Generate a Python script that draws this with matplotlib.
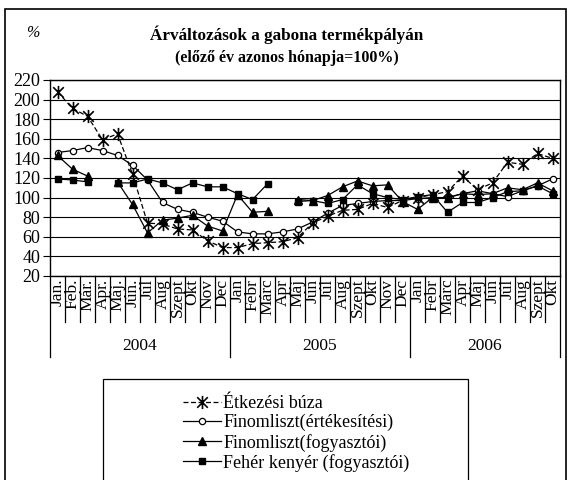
import matplotlib
matplotlib.use('Agg')
import matplotlib.pyplot as plt
from matplotlib.path import Path
from matplotlib.patches import Rectangle
import numpy as np

months = ['Jan.', 'Feb.', 'Már.', 'Apr.', 'Máj.', 'Jún.', 'Júl', 'Aug', 'Szept', 'Okt', 'Nov', 'Dec',
          'Jan', 'Febr', 'Márc', 'Apr', 'Máj', 'Jún', 'Júl', 'Aug', 'Szept', 'Okt', 'Nov', 'Dec',
          'Jan', 'Febr', 'Márc', 'Apr', 'Máj', 'Jún', 'Júl', 'Aug', 'Szept', 'Okt']
years = ['2004', '2005', '2006']
year_counts = [12, 12, 10]

buza = [208, 191, 183, 159, 165, 124, 74, 73, 68, 67, 56, 49,
        49, 53, 54, 55, 59, 74, 81, 87, 88, 94, 90, 97,
        100, 103, 106, 122, 108, 115, 136, 134, 145, 140]
finom_ert = [146, 148, 151, 148, 143, 133, 118, 95, 88, 85, 80, 76,
             65, 63, 63, 65, 68, 75, 84, 92, 94, 96, 97, 97,
             99, 100, 100, 104, 107, 104, 101, 107, 112, 119]
finom_fogy = [143, 129, 122, None, 116, 93, 64, 77, 79, 82, 71, 66,
              103, 85, 86, None, 98, 97, 102, 111, 117, 112, 113, 96,
              88, 100, 100, 104, 103, 104, 110, 108, 115, 107]
kenyer = [119, 118, 116, None, 115, 115, 119, 115, 108, 115, 111, 111,
          104, 98, 114, None, 96, 97, 94, 98, 113, 104, 100, 98,
          101, 103, 85, 95, 95, 100, 106, 107, 112, 104]

series_names = ['Étkezési búza', 'Finomliszt(értékesítési)',
                'Finomliszt(fogyasztói)', 'Fehér kenyér (fogyasztói)']

plt.rcParams['font.family'] = ['Liberation Serif', 'DejaVu Serif']

W, H = 571, 480
fig = plt.figure(figsize=(W / 100, H / 100), dpi=100)

def fx(px):
    return px / W

def fy(py):
    return 1 - py / H

# outer frame
fig.patches.append(Rectangle((fx(5), fy(481)), fx(566) - fx(5), fy(9) - fy(481),
                             transform=fig.transFigure, fill=False, edgecolor='black',
                             linewidth=1.2, zorder=0))

ax_l, ax_r, ax_t, ax_b = 50, 560, 80, 276
ax = fig.add_axes([fx(ax_l), fy(ax_b), fx(ax_r) - fx(ax_l), fy(ax_t) - fy(ax_b)])

x = np.arange(len(months))

def arr(v):
    return np.array([np.nan if a is None else a for a in v], dtype=float)

star = Path([(0, -1), (0, 1), (-0.8, -0.8), (0.8, 0.8), (-0.8, 0.8), (0.8, -0.8)],
            [Path.MOVETO, Path.LINETO, Path.MOVETO, Path.LINETO, Path.MOVETO, Path.LINETO])

ax.plot(x, arr(buza), color='black', lw=0.9, dashes=(4, 2), marker=star, ms=9.5,
        mew=1.2, mec='black', label=series_names[0], zorder=5)
ax.plot(x, arr(finom_ert), color='black', lw=0.9, marker='o', ms=4.5, mfc='white',
        mec='black', mew=0.9, label=series_names[1], zorder=4)
ax.plot(x, arr(finom_fogy), color='black', lw=0.9, marker='^', ms=5.5, mfc='black',
        mec='black', label=series_names[2], zorder=4)
ax.plot(x, arr(kenyer), color='black', lw=0.9, marker='s', ms=4.5, mfc='black',
        mec='black', label=series_names[3], zorder=4)

ax.set_xlim(-0.5, len(months) - 0.5)
ax.set_ylim(20, 220)
ax.set_yticks(np.arange(20, 221, 20))
ax.tick_params(axis='y', direction='out', length=5, width=0.8, labelsize=13, pad=2)
ax.yaxis.grid(True, color='black', lw=0.8)
ax.set_axisbelow(True)
for s in ax.spines.values():
    s.set_linewidth(1.0)

ax.set_xticks(x)
ax.set_xticklabels(months, rotation=90, fontsize=12.5, va='top', ha='center')
ax.tick_params(axis='x', length=0, pad=2)

# separators below axis
trans = ax.get_xaxis_transform()
h = ax_b - ax_t
minor_bottom = -(322 - ax_b) / h
year_bottom = -(357 - ax_b) / h
bounds = np.cumsum([0] + year_counts) - 0.5
for i in range(len(months) + 1):
    xb = i - 0.5
    if np.any(np.isclose(bounds, xb)):
        ax.plot([xb, xb], [0, year_bottom], transform=trans, color='black', lw=0.9, clip_on=False)
    else:
        ax.plot([xb, xb], [0, minor_bottom], transform=trans, color='black', lw=0.9, clip_on=False)
for k, yr in enumerate(years):
    xc = (bounds[k] + bounds[k + 1]) / 2
    ax.text(xc, -(346 - ax_b) / h, yr, transform=trans, ha='center', va='center', fontsize=12.5)

# titles
fig.text(fx(287), fy(35), 'Árváltozások a gabona termékpályán', ha='center', va='center',
         fontsize=12.3, fontweight='bold')
fig.text(fx(287), fy(58), '(előző év azonos hónapja=100%)', ha='center', va='center',
         fontsize=11.5, fontweight='bold')
fig.text(fx(33), fy(33), '%', ha='center', va='center', fontsize=11.5, style='italic')

# legend box
fig.patches.append(Rectangle((fx(103), fy(482)), fx(468) - fx(103), fy(379) - fy(482),
                             transform=fig.transFigure, fill=False, edgecolor='black',
                             linewidth=0.9, zorder=1))
handles, labels = ax.get_legend_handles_labels()
leg = fig.legend(handles, labels, loc='upper left', bbox_to_anchor=(fx(183), fy(395)),
                 bbox_transform=fig.transFigure, frameon=False, fontsize=13,
                 handlelength=2.1, handletextpad=0.12, labelspacing=0.12, borderpad=0,
                 borderaxespad=0)

fig.savefig('out.png', dpi=100)
